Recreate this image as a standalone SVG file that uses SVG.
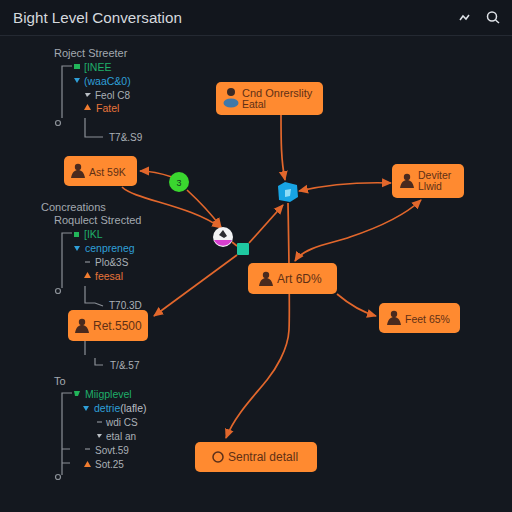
<svg xmlns="http://www.w3.org/2000/svg" width="512" height="512" viewBox="0 0 512 512">
<style>
text{font-family:"Liberation Sans","DejaVu Sans",sans-serif}
.title{font-size:15.2px;fill:#d5d9dd}
.h{font-size:11px;fill:#a3a9b0}
.w{font-size:10px;fill:#aab0b6}
.g{font-size:10.5px;fill:#1fae6a}
.b{font-size:10.5px;fill:#2f9fd8}
.o{font-size:10.5px;fill:#e8743a}
.n{fill:#ff8a30}
.l{font-size:10.5px;fill:#5f3015}
.lg{font-size:12px;fill:#5f3015}
.t{fill:none;stroke:#8b9097;stroke-width:1.2}
.c{fill:none;stroke:#e2672c;stroke-width:1.7}
.ic{fill:#4a2a1e}
</style>
<defs>
<marker id="a" markerWidth="10" markerHeight="10" refX="9" refY="5" orient="auto-start-reverse" markerUnits="userSpaceOnUse" viewBox="0 0 10 10"><path d="M0 0.500L10 5L0 9.500Z" fill="#e2672c"/></marker>
<g id="p"><circle cx="0" cy="-5" r="3.200"/><path d="M-7 6C-6 0-3-2 0-2S6 0 7 6Z"/></g>
</defs>
<rect width="512" height="512" fill="#14181f"/>
<rect width="512" height="35" fill="#12161d"/>
<path d="M0 35.500H512" stroke="#242932"/>
<text class="title" x="13" y="23">Bight Level Conversation</text>
<g id="header-icons" fill="none" stroke="#dfe3e8" stroke-width="1.500">
<path d="M460 20L463 16L466 19L469 15"/>
<circle cx="492" cy="16.500" r="4.500"/><path d="M495.500 20L499 23"/>
</g>
<g id="connectors">
<path class="c" marker-end="url(#a)" d="M281 115C281 140 281 160 285 180"/>
<path class="c" marker-start="url(#a)" marker-end="url(#a)" d="M299 191C330 184 360 182 391 183"/>
<path class="c" marker-start="url(#a)" marker-end="url(#a)" d="M295 261C305 246 335 243 350 237C380 227 405 215 421 200"/>
<path class="c" marker-end="url(#a)" d="M288 203C289 260 290 310 289 330C288 350 275 370 267 380C255 395 235 415 226 438"/>
<path class="c" marker-end="url(#a)" d="M249 243L283 205"/>
<path class="c" marker-end="url(#a)" d="M237 255L154 316"/>
<path class="c" marker-end="url(#a)" d="M337 294C350 305 362 312 376 316"/>
<path class="c" marker-end="url(#a)" d="M187 190C200 202 212 215 221 227"/>
<path class="c" marker-end="url(#a)" d="M122 187C135 200 190 205 221 228"/>
<path class="c" marker-end="url(#a)" d="M172 177C160 173 150 171 140 171"/>
<path class="c" d="M237 246L232 242"/>
</g>
<g id="tree-1">
<text class="h" x="54" y="57">Roject Streeter</text>
<path class="t" d="M72 66H62V118"/><circle class="t" cx="58" cy="123" r="2.500"/>
<rect x="74" y="64" width="6" height="5" fill="#22b55a"/><text class="g" x="84" y="71">[INEE</text>
<path d="M74 78H80L77 83Z" fill="#2f9fd8"/><text class="b" x="84" y="85">(waaC&amp;0)</text>
<path d="M85 93H91L87 97Z" fill="#b9bec4"/><text class="w" x="95" y="99">Feol C8</text>
<path d="M84 110L87.500 104L91 110Z" fill="#f07c30"/><text class="o" x="96" y="112">Fatel</text>
<path class="t" d="M85 118V137H103"/><text class="w" x="109" y="141">T7&amp;.S9</text>
</g>
<g id="tree-2">
<text class="h" x="41" y="211">Concreations</text>
<text class="h" x="54" y="224">Roqulect Strected</text>
<path class="t" d="M72 233H62V288"/><circle class="t" cx="58" cy="291" r="2.500"/>
<rect x="74" y="232" width="5" height="5" fill="#22b55a"/><text class="g" x="84" y="238">[IKL</text>
<path d="M74 246H80L77 251Z" fill="#2f9fd8"/><text class="b" x="85" y="252">cenpreneg</text>
<path class="t" d="M85 262H90"/><text class="w" x="95" y="266">Plo&amp;3S</text>
<path d="M84 278L87.500 272L91 278Z" fill="#f07c30"/><text class="o" x="95" y="280">feesal</text>
<path class="t" d="M85 286V303H95L103 306"/><text class="w" x="109" y="309">T70.3D</text>
<path class="t" d="M85 341V355M95 358V365H103"/><text class="w" x="110" y="369">T/&amp;.57</text>
</g>
<g id="tree-3">
<text class="h" x="54" y="385">To</text>
<path class="t" d="M72 393H62V475M62 449H70M62 463H70"/><circle class="t" cx="58" cy="477" r="2.500"/>
<path d="M74 391H80L78 396H75Z" fill="#22b55a"/><text class="g" x="85" y="398">Miigplevel</text>
<path d="M83 406H89L86 411Z" fill="#2f9fd8"/><text class="b" x="94" y="412">detrie<tspan fill="#b9bec4">(lafle)</tspan></text>
<path class="t" d="M97 422H102"/><text class="w" x="106" y="426">wdi CS</text>
<path d="M97 434H102L99 438Z" fill="#b9bec4"/><text class="w" x="106" y="440">etal an</text>
<path class="t" d="M85 449H90"/><text class="w" x="95" y="454">Sovt.59</text>
<path d="M84 467L87.500 461L91 467Z" fill="#f07c30"/><text class="w" x="95" y="468">Sot.25</text>
</g>
<g id="node-top">
<rect class="n" x="216" y="82" width="107" height="33" rx="5"/>
<circle cx="231" cy="92" r="4" fill="#3a2a25"/><ellipse cx="231" cy="103" rx="7.500" ry="4.500" fill="#3f78a8"/>
<text class="l" x="242" y="97" style="font-size:11px">Cnd Onrerslity</text><text class="l" x="242" y="108">Eatal</text>
</g>
<g id="node-ast">
<rect class="n" x="64" y="156" width="73" height="30" rx="5"/>
<use href="#p" class="ic" x="78" y="172"/><text class="l" x="89" y="176">Ast 59K</text>
</g>
<g id="node-right">
<rect class="n" x="392" y="164" width="72" height="34" rx="5"/>
<use href="#p" class="ic" x="407" y="182"/><text class="l" x="418" y="179">Deviter</text><text class="l" x="418" y="190">Llwid</text>
</g>
<g id="node-art">
<rect class="n" x="248" y="263" width="89" height="31" rx="5"/>
<use href="#p" class="ic" x="266" y="280"/><text class="lg" x="277" y="283">Art 6D%</text>
</g>
<g id="node-feet">
<rect class="n" x="379" y="303" width="81" height="30" rx="5"/>
<use href="#p" class="ic" x="394" y="319"/><text class="l" x="405" y="323">Feet 65%</text>
</g>
<g id="node-ret">
<rect class="n" x="68" y="310" width="80" height="31" rx="5"/>
<use href="#p" class="ic" x="82" y="327"/><text class="lg" x="93" y="330">Ret.5500</text>
</g>
<g id="node-sentral">
<rect class="n" x="195" y="442" width="122" height="30" rx="5"/>
<circle cx="218" cy="457" r="5" fill="none" stroke="#5a2f1a" stroke-width="1.500"/>
<text class="lg" x="228" y="461">Sentral detall</text>
</g>
<g id="node-cube">
<path d="M278 186L285 182L297 185L298 197L290 202L279 200Z" fill="#18a4e4"/>
<path d="M285 190L291 189L290 196L285 197Z" fill="#8fdcf7"/>
</g>
<g id="node-green">
<circle cx="179" cy="182" r="10" fill="#3ad62f"/>
<text x="179" y="186" text-anchor="middle" font-size="9" fill="#14381f">3</text>
</g>
<g id="node-white">
<circle cx="223" cy="237" r="10" fill="#f2f2f4"/>
<path d="M214 240H232A10 10 0 0 1 214 240Z" fill="#d83fd0"/>
<path d="M219 235L223 230L227 236L224 238Z" fill="#2a2a30"/>
</g>
<g id="node-teal">
<rect x="237" y="243" width="12" height="12" rx="1" fill="#1fc8a0"/>
</g>
</svg>
